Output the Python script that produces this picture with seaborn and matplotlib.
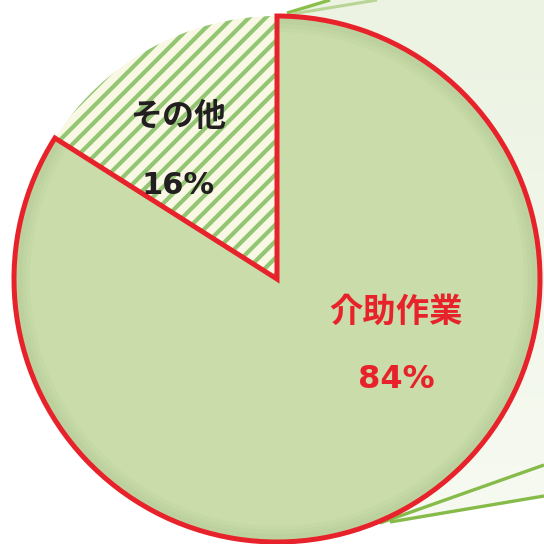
import numpy as np
import matplotlib
matplotlib.use("Agg")
import matplotlib.pyplot as plt
from matplotlib.patches import Polygon, Wedge
import seaborn as sns

# Share of work time by category
categories = ["介助作業", "その他"]
shares = [84, 16]
pct_labels = ["84%", "16%"]

sns.set_theme(style="white")
plt.rcParams["font.family"] = ["Noto Sans CJK JP", "DejaVu Sans"]
plt.rcParams["hatch.linewidth"] = 3.0
plt.rcParams["hatch.color"] = "#93c672"

W = H = 544
fig = plt.figure(figsize=(W / 100, H / 100), dpi=100)
fig.patch.set_facecolor("white")
ax = fig.add_axes([0, 0, 1, 1])
ax.set_xlim(0, W)
ax.set_ylim(0, H)
ax.set_aspect("equal")
ax.axis("off")

cx, cy, r = 277, 265, 263

# Callout panel behind the pie (light green, fading toward the bottom)
panel = Polygon([(287, 531), (330, 544), (544, 544), (544, 48), (400, 22)],
                closed=True, facecolor="none", edgecolor="none")
ax.add_patch(panel)
grad = np.linspace(0, 1, 256).reshape(-1, 1)
top_c = np.array([236, 243, 226]) / 255
bot_c = np.array([247, 250, 242]) / 255
img = (bot_c[None, None, :] * (1 - grad[..., None]) + top_c[None, None, :] * grad[..., None])
im = ax.imshow(img, extent=(0, W, 0, H), origin="lower", aspect="auto", zorder=0)
im.set_clip_path(panel)

# Callout guide lines
ax.plot([287, 330], [531, 544], color="#8abf4c", lw=2.4, zorder=1, solid_capstyle="butt")
ax.plot([292, 377], [530, 544], color="#b9d596", lw=2.2, zorder=1, solid_capstyle="butt")
ax.plot([380, 544], [21, 79], color="#86bb4a", lw=2.4, zorder=1, solid_capstyle="butt")
ax.plot([390, 544], [22, 48], color="#86bb4a", lw=2.4, zorder=1, solid_capstyle="butt")

wedges, _ = ax.pie(shares, startangle=90, counterclock=False,
                   center=(cx, cy), radius=r, frame=True)
ax.set_xlim(0, W)
ax.set_ylim(0, H)
ax.axis("off")

main, other = wedges
other.set_facecolor("#f9f8e4")
other.set_edgecolor("#93c672")
other.set_linewidth(0)
other.set_hatch("//")
other.set_zorder(2)

main.set_facecolor("#c9dcaa")
main.set_edgecolor("none")
main.set_zorder(3)

# Soft inner rim along the arc of the main slice
t1, t2 = main.theta1, main.theta2
for w, a in [(14, 0.10), (10, 0.14), (6, 0.18)]:
    ax.add_patch(Wedge((cx, cy), r - 2, t1, t2, width=w,
                       facecolor="#a9c28c", edgecolor="none", alpha=a, zorder=4))

outline = Wedge((cx, cy), r, t1, t2, facecolor="none", edgecolor="#e8222a",
                linewidth=3.6, joinstyle="miter", zorder=5)
ax.add_patch(outline)

# Slice labels
red, dark = "#e8222a", "#231f20"
num_font = ["DejaVu Sans"]
ax.text(cx + 119, cy - 33, categories[0], color=red, fontsize=24,
        fontweight="bold", ha="center", va="center", zorder=6)
ax.text(cx + 119, cy - 101, pct_labels[0], color=red, fontsize=23,
        fontweight="bold", family=num_font, ha="center", va="center", zorder=6)
ax.text(cx - 99, cy + 162, categories[1], color=dark, fontsize=23,
        fontweight="bold", ha="center", va="center", zorder=6)
ax.text(cx - 99, cy + 93, pct_labels[1], color=dark, fontsize=22,
        fontweight="bold", family=num_font, ha="center", va="center", zorder=6)

fig.savefig("out.png", dpi=100, facecolor="white")
